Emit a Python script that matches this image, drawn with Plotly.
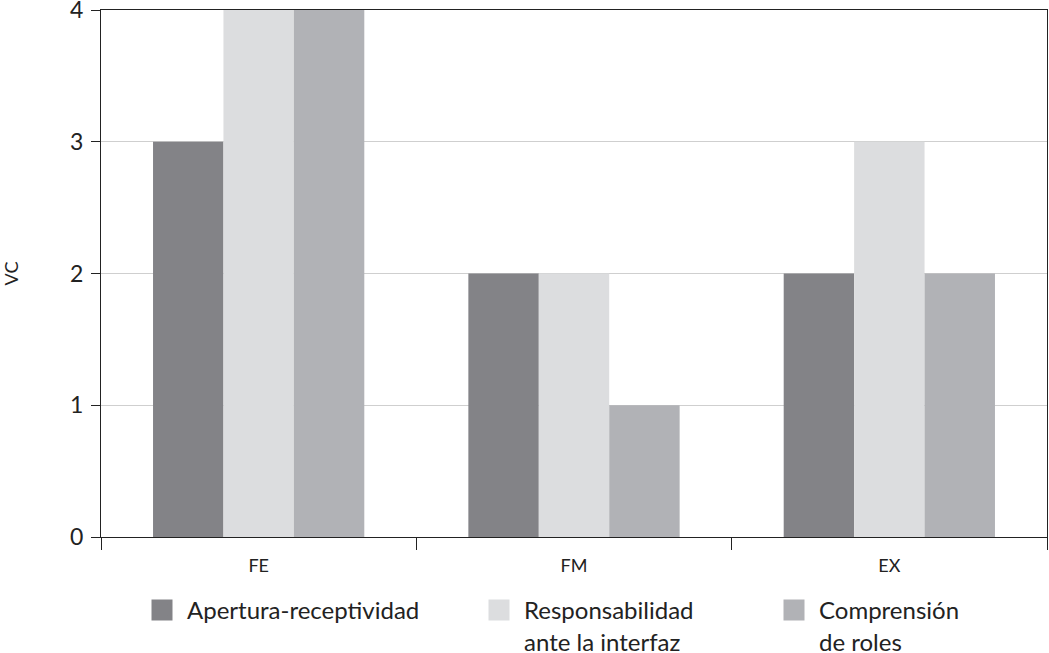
import plotly.graph_objects as go

categories = ["FE", "FM", "EX"]
series_names = ["Apertura-receptividad", "Responsabilidad<br>ante la interfaz", "Comprensión<br>de roles"]
apertura = [3, 2, 2]
responsabilidad = [4, 2, 3]
comprension = [4, 1, 2]
colors = ["#838387", "#dcdddf", "#b1b2b6"]
y_ticks = [0, 1, 2, 3, 4]

FONT = "Lato"
fig = go.Figure()
for vals, col in zip([apertura, responsabilidad, comprension], colors):
    fig.add_trace(go.Bar(x=categories, y=vals, marker=dict(color=col, line_width=0), showlegend=False))

legend_ids = ["legend", "legend2", "legend3"]
for name, col, lid in zip(series_names, colors, legend_ids):
    fig.add_trace(go.Scatter(x=[None], y=[None], mode="markers", name=name, legend=lid,
                             marker=dict(symbol="square", size=16, color=col, line=dict(color=col, width=5))))

leg_common = dict(orientation="v", yanchor="top", y=-0.0968, valign="top", bgcolor="rgba(0,0,0,0)",
                  font=dict(family=FONT, size=24, color="#222"), itemwidth=40)
px0, pw = 101, 946
fig.update_layout(
    width=1049, height=653,
    margin=dict(l=101, r=2, t=10, b=116, autoexpand=False),
    paper_bgcolor="white", plot_bgcolor="white",
    barmode="group", bargap=0.33, bargroupgap=0,
    font=dict(family=FONT, color="#222"),
    xaxis=dict(type="category", tickson="boundaries", ticks="outside", ticklen=12, tickcolor="#222",
               showline=True, linecolor="#222", linewidth=1.2, mirror=True, showgrid=False,
               tickfont=dict(size=18), ticklabelstandoff=12),
    yaxis=dict(range=[0, 4], tickvals=y_ticks, ticks="outside", ticklen=9, tickcolor="#222",
               showline=True, linecolor="#222", linewidth=1.2, mirror=True,
               showgrid=True, gridcolor="#cfcfcf", gridwidth=1, zeroline=False,
               ticklabeloverflow="allow", ticklabelstandoff=3,
               tickfont=dict(size=23), title=dict(text="VC", font=dict(size=18), standoff=52)),
    legend=dict(x=(137 - px0) / pw, xanchor="left", **leg_common),
    legend2=dict(x=(474 - px0) / pw, xanchor="left", **leg_common),
    legend3=dict(x=(769 - px0) / pw, xanchor="left", **leg_common),
)
fig.write_html("out.html", config={"displayModeBar": False},
               post_script="document.body.style.margin='0';document.body.style.overflow='hidden';")
